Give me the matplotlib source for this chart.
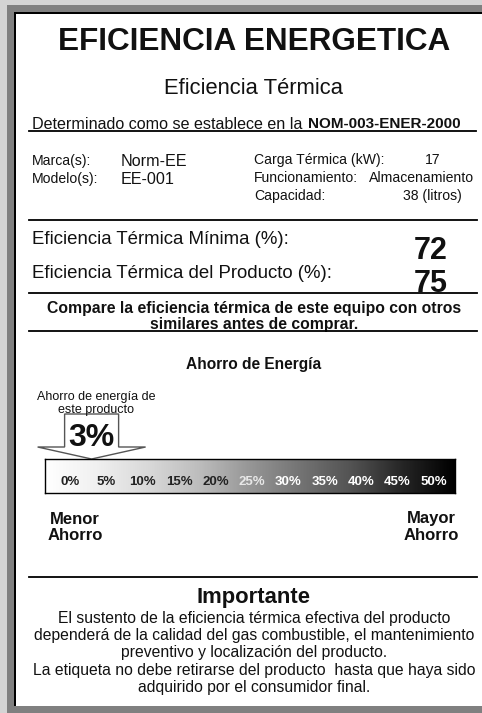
import matplotlib
matplotlib.use("Agg")
import matplotlib.pyplot as plt
import numpy as np
from matplotlib.patches import Rectangle, Polygon
from matplotlib.transforms import blended_transform_factory

plt.rcParams['font.family'] = ['Liberation Sans', 'DejaVu Sans']

# ---- data ----
title = "EFICIENCIA ENERGETICA"
subtitle = "Eficiencia Térmica"
norma_text = "Determinado como se establece en la"
norma_code = "NOM-003-ENER-2000"
marca = "Norm-EE"
modelo = "EE-001"
carga_termica_kw = 17
funcionamiento = "Almacenamiento"
capacidad_litros = 38
eficiencia_minima = 72
eficiencia_producto = 75
ahorro_producto = 3
escala_ahorro = [0, 5, 10, 15, 20, 25, 30, 35, 40, 45, 50]
escala_labels = [f"{v}%" for v in escala_ahorro]
importante_lines = [
    "El sustento de la eficiencia térmica efectiva del producto",
    "dependerá de la calidad del gas combustible, el mantenimiento",
    "preventivo y localización del producto.",
    "La etiqueta no debe retirarse del producto  hasta que haya sido",
    "adquirido por el consumidor final.",
]

W, H = 482, 713
fig = plt.figure(figsize=(W / 100, H / 100), dpi=100)
fig.patch.set_facecolor('#d4d4d4')
ax = fig.add_axes([0, 0, 1, 1])
ax.set_xlim(0, W)
ax.set_ylim(H, 0)
ax.axis('off')

TXT = '#111111'

# frame
ax.add_patch(Rectangle((7, 5), W, H, facecolor='#808080', edgecolor='none', zorder=0))
ax.add_patch(Rectangle((14, 12), W, 694, facecolor='black', edgecolor='none', zorder=0.5))
ax.add_patch(Rectangle((16, 14), W, 692, facecolor='white', edgecolor='none', zorder=1))

cx = 254
ax.text(cx, 42, title, ha='center', va='center', fontsize=22.7, fontweight='bold', color=TXT, zorder=5)
ax.text(cx, 88, subtitle, ha='center', va='center', fontsize=15.8, color=TXT, zorder=5)
ax.text(307, 124.5, norma_text + " ", ha='right', va='center', fontsize=11.6, color=TXT, zorder=5)
ax.text(308, 124.5, norma_code, ha='left', va='center', fontsize=11, fontweight='bold', color=TXT, zorder=5)
ax.plot([29, 476], [131, 131], color='black', lw=1.3, zorder=6)

# product data
fs_small = 10.1
ax.text(32, 161, "Marca(s):", ha='left', va='center', fontsize=fs_small, color=TXT, zorder=5)
ax.text(32, 179, "Modelo(s):", ha='left', va='center', fontsize=fs_small, color=TXT, zorder=5)
ax.text(121, 162, marca, ha='left', va='center', fontsize=11.6, color=TXT, zorder=5)
ax.text(121, 180, modelo, ha='left', va='center', fontsize=11.6, color=TXT, zorder=5)
ax.text(254, 160, "Carga Térmica (kW):", ha='left', va='center', fontsize=fs_small, color=TXT, zorder=5)
ax.text(433, 160, f"{carga_termica_kw}", ha='center', va='center', fontsize=fs_small, color=TXT, zorder=5)
ax.text(254, 178, "Funcionamiento:", ha='left', va='center', fontsize=fs_small, color=TXT, zorder=5)
ax.text(474, 178, funcionamiento, ha='right', va='center', fontsize=fs_small, color=TXT, zorder=5)
ax.text(254, 196, "Capacidad:", ha='left', va='center', fontsize=fs_small, color=TXT, zorder=5)
ax.text(462, 196, f"{capacidad_litros} (litros)", ha='right', va='center', fontsize=fs_small, color=TXT, zorder=5)
ax.plot([29, 477], [220, 220], color='black', lw=1.3, zorder=6)

# efficiency values
ax.text(32, 240, "Eficiencia Térmica Mínima (%):", ha='left', va='center', fontsize=13.4, color=TXT, zorder=5)
ax.text(32, 273, "Eficiencia Térmica del Producto (%):", ha='left', va='center', fontsize=13.4, color=TXT, zorder=5)
ax.text(431, 251, f"{eficiencia_minima}", ha='center', va='center', fontsize=22, fontweight='bold', color=TXT, zorder=5)
ax.text(431, 284, f"{eficiencia_producto}", ha='center', va='center', fontsize=22, fontweight='bold', color=TXT, zorder=5)
ax.plot([29, 477], [293, 293], color='black', lw=1.3, zorder=6)

ax.text(cx, 309, "Compare la eficiencia térmica de este equipo con otros", ha='center', va='center',
        fontsize=11.3, fontweight='bold', color=TXT, zorder=5)
ax.text(cx, 325, "similares antes de comprar.", ha='center', va='center',
        fontsize=11.3, fontweight='bold', color=TXT, zorder=5)
ax.plot([29, 477], [331, 331], color='black', lw=1.3, zorder=6)

ax.text(cx, 364, "Ahorro de Energía", ha='center', va='center', fontsize=11.2, fontweight='bold', color=TXT, zorder=5)

# gradient scale bar
bx0, bx1, by0, by1 = 45, 455, 459, 493
bar_ax = fig.add_axes([bx0 / W, 1 - by1 / H, (bx1 - bx0) / W, (by1 - by0) / H], zorder=3)
lo = escala_ahorro[0] - 3.4
hi = escala_ahorro[-1] + 2.9
grad = np.linspace(0, 1, 256)[None, :]
bar_ax.imshow(grad, aspect='auto', cmap='Greys', extent=[lo, hi, 0, 1], vmin=0, vmax=1.0)
bar_ax.set_xlim(lo, hi)
bar_ax.set_ylim(0, 1)
bar_ax.set_xticks([])
bar_ax.set_yticks([])
for s in bar_ax.spines.values():
    s.set_linewidth(1.0)
    s.set_color('black')
for v, lab in zip(escala_ahorro, escala_labels):
    col = '#222222' if v < 25 else ('#e8e8e8' if v == 25 else 'white')
    bar_ax.text(v, 0.32, lab, ha='center', va='center', fontsize=9.5, fontweight='bold', color=col)

# arrow pointing at product saving
tr = blended_transform_factory(bar_ax.transData, ax.transData)
ax_x = ahorro_producto
px_per_unit = (bx1 - bx0) / (hi - lo)
sw, hw = 27 / px_per_unit, 54 / px_per_unit
arrow = Polygon([(ax_x - sw, 414), (ax_x + sw, 414), (ax_x + sw, 447), (ax_x + hw, 447),
                 (ax_x, 459), (ax_x - hw, 447), (ax_x - sw, 447)],
                closed=True, facecolor='white', edgecolor='#555555', lw=1.0, transform=tr, zorder=4)
ax.add_patch(arrow)
ax.text(ax_x, 438, f"{ahorro_producto}%", ha='center', va='center', fontsize=23, fontweight='bold',
        color=TXT, transform=tr, zorder=6)
ax.text(96, 397, "Ahorro de energía de", ha='center', va='center', fontsize=9, color=TXT, zorder=6)
ax.text(96, 410, "este producto", ha='center', va='center', fontsize=9, color=TXT, zorder=6)

ax.text(75, 519, "Menor", ha='center', va='center', fontsize=12, fontweight='bold', color=TXT, zorder=5)
ax.text(75, 536, "Ahorro", ha='center', va='center', fontsize=12, fontweight='bold', color=TXT, zorder=5)
ax.text(431, 519, "Mayor", ha='center', va='center', fontsize=12, fontweight='bold', color=TXT, zorder=5)
ax.text(431, 536, "Ahorro", ha='center', va='center', fontsize=12, fontweight='bold', color=TXT, zorder=5)

ax.plot([29, 477], [577, 577], color='black', lw=1.3, zorder=6)
ax.text(cx, 598, "Importante", ha='center', va='center', fontsize=15.8, fontweight='bold', color=TXT, zorder=5)
for i, line in enumerate(importante_lines):
    ax.text(cx, 618 + i * 17.4, line, ha='center', va='center', fontsize=11.3, color=TXT, zorder=5)

fig.savefig("out.png", dpi=100, facecolor=fig.get_facecolor())
